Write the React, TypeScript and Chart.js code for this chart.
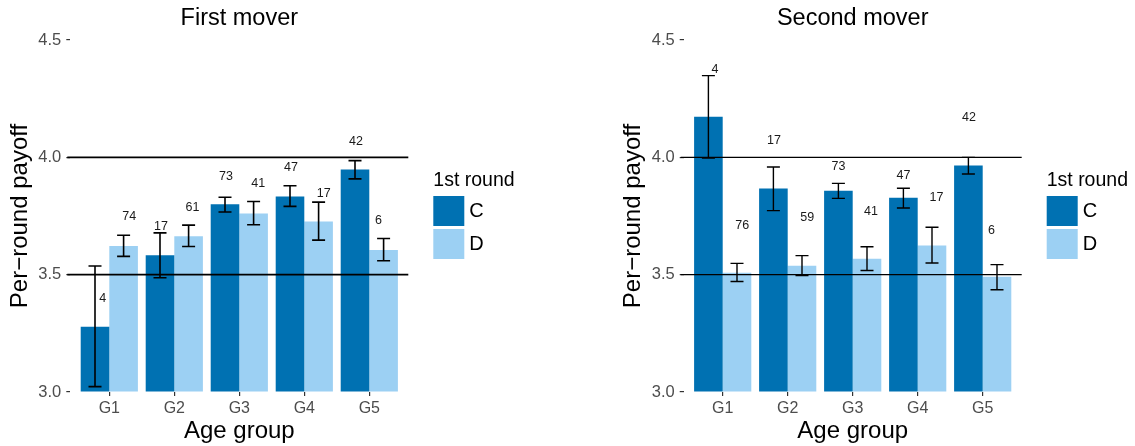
import React, { useEffect, useRef } from "react";
import { Chart, registerables } from "chart.js";

Chart.register(...registerables);

// ---------- data ----------
const groups = ["G1", "G2", "G3", "G4", "G5"];
const seriesNames = ["C", "D"];
const legendTitle = "1st round";
const yTicks = [3.0, 3.5, 4.0, 4.5];
const refLines = [3.5, 4.0];

// First mover
const fmC = [3.278, 3.583, 3.8, 3.833, 3.948];
const fmCLo = [3.023, 3.487, 3.767, 3.791, 3.908];
const fmCHi = [3.537, 3.678, 3.83, 3.879, 3.986];
const fmD = [3.622, 3.664, 3.761, 3.727, 3.605];
const fmDLo = [3.578, 3.62, 3.713, 3.647, 3.559];
const fmDHi = [3.668, 3.711, 3.812, 3.809, 3.654];
const fmNC = [4, 17, 73, 47, 42];
const fmND = [74, 61, 41, 17, 6];
const fmLabYC = [3.4, 3.703, 3.92, 3.955, 4.068];
const fmLabYD = [3.746, 3.784, 3.887, 3.847, 3.729];
const fmLabDxC = [0.12, 0.015, 0.015, 0.015, 0.015];
const fmLabDxD = [0.085, 0.06, 0.07, 0.08, -0.08];

// Second mover
const smC = [4.173, 3.867, 3.858, 3.828, 3.965];
const smCLo = [3.997, 3.773, 3.825, 3.784, 3.929];
const smCHi = [4.348, 3.959, 3.889, 3.868, 4.0];
const smD = [3.508, 3.538, 3.568, 3.624, 3.491];
const smDLo = [3.471, 3.496, 3.518, 3.55, 3.436];
const smDHi = [3.548, 3.581, 3.619, 3.702, 3.543];
const smNC = [4, 17, 73, 47, 42];
const smND = [76, 59, 41, 17, 6];
const smLabYC = [4.372, 4.071, 3.959, 3.923, 4.168];
const smLabYD = [3.71, 3.742, 3.77, 3.827, 3.689];
const smLabDxC = [0.1, 0.01, 0.0, 0.0, 0.01];
const smLabDxD = [0.08, 0.08, 0.06, 0.07, -0.085];

// ---------- styles ----------
const COLOR_C = "#0071B2";
const COLOR_D = "#9CD0F3";
const FONT = "'Liberation Sans', Arial, Helvetica, sans-serif";
Chart.defaults.font.family = FONT;

type PanelData = {
  title: string;
  vals: number[][];
  lo: number[][];
  hi: number[][];
  n: number[][];
  labY: number[][];
  labDx: number[][];
};

const panels: { data: PanelData; geom: any }[] = [
  {
    data: {
      title: "First mover",
      vals: [fmC, fmD],
      lo: [fmCLo, fmDLo],
      hi: [fmCHi, fmDHi],
      n: [fmNC, fmND],
      labY: [fmLabYC, fmLabYD],
      labDx: [fmLabDxC, fmLabDxD],
    },
    geom: { left: 0, width: 560, axisWidth: 70.3, titlePad: 5.6, padRight: 151.7, lw: 1.6 },
  },
  {
    data: {
      title: "Second mover",
      vals: [smC, smD],
      lo: [smCLo, smDLo],
      hi: [smCHi, smDHi],
      n: [smNC, smND],
      labY: [smLabYC, smLabYD],
      labDx: [smLabDxC, smLabDxD],
    },
    geom: { left: 560, width: 575, axisWidth: 123.7, titlePad: 59.1, padRight: 113.3, lw: 1.4 },
  },
];

function makeConfig(p: PanelData, g: any): any {
  const colors = [COLOR_C, COLOR_D];
  const overlay = {
    id: "overlay",
    afterDatasetsDraw(chart: any) {
      const { ctx, chartArea, scales } = chart;
      const xs = scales.x;
      const ys = scales.y;
      ctx.save();
      // reference lines
      ctx.strokeStyle = "#000";
      ctx.lineWidth = g.lw;
      refLines.forEach((v) => {
        const y = ys.getPixelForValue(v);
        ctx.beginPath();
        ctx.moveTo(chartArea.left - 3, y);
        ctx.lineTo(chartArea.right, y);
        ctx.stroke();
      });
      // error bars
      const capHalf = xs.getPixelForValue(1.1) - xs.getPixelForValue(1);
      p.vals.forEach((_, di) => {
        const meta = chart.getDatasetMeta(di);
        meta.data.forEach((bar: any, i: number) => {
          const x = bar.x;
          const yLo = ys.getPixelForValue(p.lo[di][i]);
          const yHi = ys.getPixelForValue(p.hi[di][i]);
          ctx.beginPath();
          ctx.moveTo(x, yLo);
          ctx.lineTo(x, yHi);
          ctx.moveTo(x - capHalf, yLo);
          ctx.lineTo(x + capHalf, yLo);
          ctx.moveTo(x - capHalf, yHi);
          ctx.lineTo(x + capHalf, yHi);
          ctx.stroke();
        });
      });
      // count labels
      ctx.fillStyle = "#1a1a1a";
      ctx.font = `12.5px ${FONT}`;
      ctx.textAlign = "center";
      ctx.textBaseline = "middle";
      p.vals.forEach((_, di) => {
        const meta = chart.getDatasetMeta(di);
        meta.data.forEach((bar: any, i: number) => {
          const dx = xs.getPixelForValue(1 + p.labDx[di][i]) - xs.getPixelForValue(1);
          const y = ys.getPixelForValue(p.labY[di][i]);
          ctx.fillText(String(p.n[di][i]), bar.x + dx, y);
        });
      });
      ctx.restore();
    },
    afterDraw(chart: any) {
      const { ctx, chartArea } = chart;
      ctx.save();
      // title
      ctx.fillStyle = "#000";
      ctx.font = `23.5px ${FONT}`;
      ctx.textAlign = "center";
      ctx.textBaseline = "middle";
      ctx.fillText(p.title, (chartArea.left + chartArea.right) / 2, 19);
      // legend
      const mid = (chartArea.top + chartArea.bottom) / 2;
      const lx = chartArea.right + 25;
      ctx.textAlign = "left";
      ctx.font = `19.5px ${FONT}`;
      ctx.fillText(legendTitle, lx, mid - 35);
      seriesNames.forEach((name, k) => {
        const top = mid - 20 + k * 33;
        ctx.fillStyle = colors[k];
        ctx.fillRect(lx, top, 31, 30);
        ctx.fillStyle = "#000";
        ctx.font = `20px ${FONT}`;
        ctx.fillText(name, lx + 36, top + 15.5);
      });
      ctx.restore();
    },
  };

  return {
    type: "bar",
    data: {
      datasets: p.vals.map((vals, di) => ({
        label: seriesNames[di],
        data: groups.map((_, i) => ({ x: i + 1, y: vals[i] })),
        backgroundColor: colors[di],
        borderWidth: 0,
        base: yTicks[0],
        categoryPercentage: 0.88,
        barPercentage: 1,
      })),
    },
    options: {
      responsive: false,
      animation: false,
      devicePixelRatio: 1,
      layout: { padding: { top: 40, left: 0, right: g.padRight, bottom: 0 } },
      plugins: {
        legend: { display: false },
        title: { display: false },
        tooltip: { enabled: false },
      },
      scales: {
        x: {
          type: "linear",
          min: 0.4,
          max: 5.6,
          offset: false,
          afterBuildTicks: (s: any) => {
            s.ticks = groups.map((_, i) => ({ value: i + 1 }));
          },
          afterFit: (s: any) => {
            s.height = 54;
          },
          ticks: {
            autoSkip: false,
            maxRotation: 0,
            padding: 3,
            color: "#4d4d4d",
            font: { size: 16, family: FONT },
            callback: (v: any) => groups[Math.round(v) - 1] ?? "",
          },
          grid: { drawOnChartArea: false, drawTicks: true, tickLength: 4, color: "#333", lineWidth: 1.2, offset: false },
          border: { display: false },
          title: {
            display: true,
            text: "Age group",
            color: "#000",
            font: { size: 24, family: FONT },
            padding: { top: 0, bottom: 0 },
          },
        },
        y: {
          type: "linear",
          min: yTicks[0],
          max: yTicks[yTicks.length - 1],
          afterBuildTicks: (s: any) => {
            s.ticks = yTicks.map((v) => ({ value: v }));
          },
          afterFit: (s: any) => {
            s.width = g.axisWidth;
          },
          ticks: {
            padding: 5,
            color: "#4d4d4d",
            font: { size: 16.5, family: FONT },
            callback: (v: any) => Number(v).toFixed(1),
          },
          grid: { drawOnChartArea: false, drawTicks: true, tickLength: 4, color: "#333", lineWidth: 1.2 },
          border: { display: false },
          title: {
            display: true,
            text: "Per\u2212round payoff",
            color: "#000",
            font: { size: 24, family: FONT },
            padding: { top: g.titlePad, bottom: 0 },
          },
        },
      },
    },
    plugins: [overlay],
  };
}

function PanelChart({ data, geom }: { data: PanelData; geom: any }) {
  const ref = useRef<HTMLCanvasElement | null>(null);
  useEffect(() => {
    if (!ref.current) return;
    const chart = new Chart(ref.current, makeConfig(data, geom));
    return () => chart.destroy();
  }, []);
  return (
    <canvas
      ref={ref}
      width={geom.width}
      height={446}
      style={{ position: "absolute", left: geom.left, top: 0, width: geom.width, height: 446 }}
    />
  );
}

export default function App() {
  return (
    <div style={{ position: "fixed", left: 0, top: 0, width: 1135, height: 446, background: "#fff" }}>
      {panels.map((p, i) => (
        <PanelChart key={i} data={p.data} geom={p.geom} />
      ))}
    </div>
  );
}
